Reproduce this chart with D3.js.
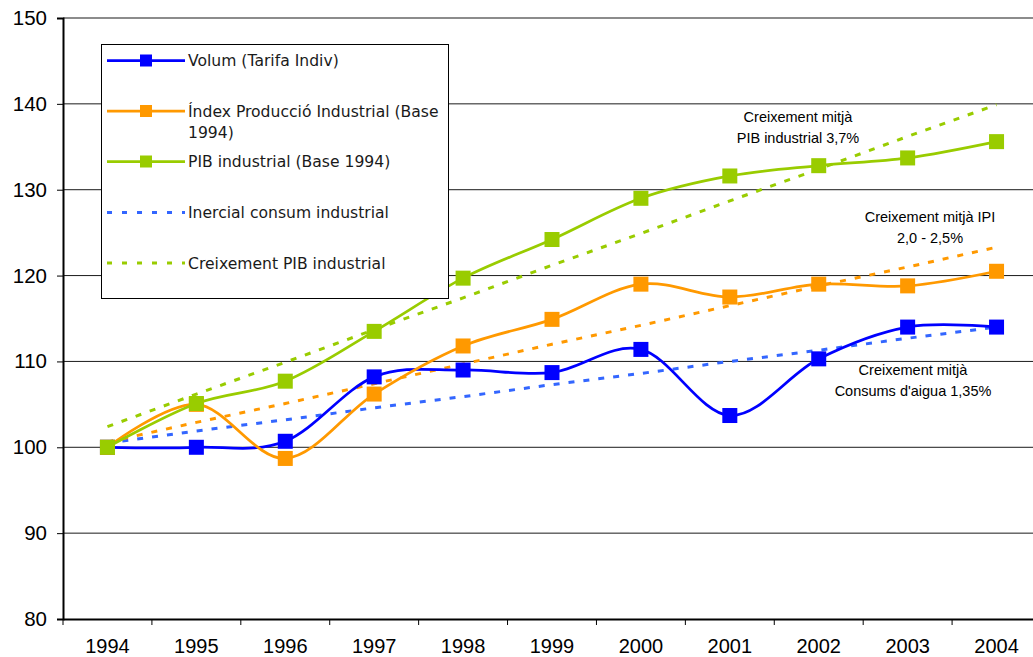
<!DOCTYPE html>
<html>
<head>
<meta charset="utf-8">
<script src="https://cdn.jsdelivr.net/npm/d3@7"></script>
<style>
  html, body { margin: 0; padding: 0; background: #fff; overflow: hidden; }
  svg { display: block; }
</style>
</head>
<body>
<svg id="chart" width="1033" height="657"></svg>
<script>
// Years on the category axis
const years = ["1994","1995","1996","1997","1998","1999","2000","2001","2002","2003","2004"];

// Index series (base 1994 = 100)
const volum = [100.0, 100.0, 100.7, 108.2, 109.0, 108.7, 111.4, 103.7, 110.3, 114.0, 114.0];
const ipi   = [100.0, 105.0, 98.7, 106.2, 111.8, 114.9, 119.0, 117.5, 119.0, 118.8, 120.5];
const pib   = [100.0, 105.1, 107.7, 113.5, 119.7, 124.2, 129.0, 131.6, 132.8, 133.7, 135.6];

// Trend lines
const inercial   = [100.5, 101.9, 103.2, 104.6, 105.9, 107.3, 108.6, 110.0, 111.3, 112.7, 114.0];
const tendIpi    = [100.6, 102.9, 105.1, 107.4, 109.7, 112.0, 114.2, 116.5, 118.8, 121.0, 123.3];
const creixPib   = [102.4, 106.2, 109.9, 113.7, 117.4, 121.2, 124.9, 128.7, 132.4, 136.2, 139.9];

const yTicks = [80, 90, 100, 110, 120, 130, 140, 150];

const svg = d3.select("#chart");

const plotLeft = 63, plotRight = 1041, plotTop = 18, plotBottom = 619;

const x = d3.scaleBand().domain(years).range([plotLeft, plotRight]).padding(0);
const y = d3.scaleLinear().domain([80, 150]).range([plotBottom, plotTop]);
const cx = d => x(d) + x.bandwidth() / 2;

// Horizontal gridlines
svg.append("g")
  .selectAll("line")
  .data(yTicks.filter(t => t > 80 && t < 150))
  .join("line")
  .attr("x1", plotLeft).attr("x2", plotRight)
  .attr("y1", d => y(d)).attr("y2", d => y(d))
  .attr("stroke", "#1a1a1a").attr("stroke-width", 1);

// Top border of the plot area
svg.append("line")
  .attr("x1", plotLeft).attr("x2", plotRight)
  .attr("y1", y(150)).attr("y2", y(150))
  .attr("stroke", "#8c8c8c").attr("stroke-width", 2);

// Y axis
const yAxis = svg.append("g")
  .attr("transform", `translate(${plotLeft},0)`)
  .call(d3.axisLeft(y).tickValues(yTicks).tickSize(6).tickPadding(10).tickFormat(d3.format("d")));
yAxis.select(".domain").attr("stroke", "#000").attr("stroke-width", 2);
yAxis.selectAll(".tick line").attr("stroke", "#000");
yAxis.selectAll(".tick text")
  .attr("font-family", "'Liberation Sans', Arial, sans-serif")
  .attr("font-size", 20.5).attr("fill", "#000");

// X axis with ticks at the category boundaries
const xAxis = svg.append("g")
  .attr("transform", `translate(0,${plotBottom})`)
  .call(d3.axisBottom(x).tickSize(0).tickPadding(20));
xAxis.select(".domain").attr("stroke", "#000").attr("stroke-width", 2);
xAxis.selectAll(".tick text")
  .attr("font-family", "'Liberation Sans', Arial, sans-serif")
  .attr("font-size", 20).attr("fill", "#000");
xAxis.append("g")
  .selectAll("line")
  .data(years)
  .join("line")
  .attr("x1", d => x(d)).attr("x2", d => x(d))
  .attr("y1", 0).attr("y2", 6)
  .attr("stroke", "#000").attr("stroke-width", 1);

// Dashed trend lines
const straight = d3.line().x((d, i) => cx(years[i])).y(d => y(d));
const trends = [
  { data: inercial, color: "#3366ff" },
  { data: tendIpi,  color: "#ff9900" },
  { data: creixPib, color: "#99cc00" }
];
svg.append("g")
  .selectAll("path")
  .data(trends)
  .join("path")
  .attr("d", d => straight(d.data))
  .attr("fill", "none")
  .attr("stroke", d => d.color)
  .attr("stroke-width", 3)
  .attr("stroke-dasharray", "6,9");

// Smoothed series with square markers
const smooth = d3.line().x((d, i) => cx(years[i])).y(d => y(d)).curve(d3.curveCatmullRom.alpha(0));
const series = [
  { data: volum, color: "#0000ff" },
  { data: ipi,   color: "#ff9900" },
  { data: pib,   color: "#99cc00" }
];
const sg = svg.append("g");
series.forEach(s => {
  sg.append("path")
    .attr("d", smooth(s.data))
    .attr("fill", "none")
    .attr("stroke", s.color)
    .attr("stroke-width", 2.75);
});
series.forEach(s => {
  sg.append("g")
    .selectAll("rect")
    .data(s.data)
    .join("rect")
    .attr("x", (d, i) => cx(years[i]) - 7.5)
    .attr("y", d => y(d) - 7.5)
    .attr("width", 15).attr("height", 15)
    .attr("fill", s.color);
});

// Growth annotations
const notes = [
  { lines: ["Creixement mitjà", "PIB industrial 3,7%"], x: 798, y: 122 },
  { lines: ["Creixement mitjà IPI", "2,0 - 2,5%"], x: 930, y: 222 },
  { lines: ["Creixement mitjà", "Consums d'aigua 1,35%"], x: 913, y: 375 }
];
notes.forEach(n => {
  const t = svg.append("text")
    .attr("font-family", "'Liberation Sans', Arial, sans-serif")
    .attr("font-size", 14.5).attr("fill", "#000")
    .attr("text-anchor", "middle");
  n.lines.forEach((l, i) => {
    t.append("tspan").attr("x", n.x).attr("y", n.y + i * 21).text(l);
  });
});

// Legend
const legendItems = [
  { label: ["Volum (Tarifa Indiv)"], color: "#0000ff", marker: true, dashed: false, cy: 60.5 },
  { label: ["Índex Producció Industrial (Base", "1994)"], color: "#ff9900", marker: true, dashed: false, cy: 111 },
  { label: ["PIB industrial (Base 1994)"], color: "#99cc00", marker: true, dashed: false, cy: 161.5 },
  { label: ["Inercial consum industrial"], color: "#3366ff", marker: false, dashed: true, cy: 212.5 },
  { label: ["Creixement PIB industrial"], color: "#99cc00", marker: false, dashed: true, cy: 263 }
];
const lg = svg.append("g");
lg.append("rect")
  .attr("x", 101.5).attr("y", 44.5).attr("width", 347).attr("height", 254)
  .attr("fill", "#fff").attr("stroke", "#000").attr("stroke-width", 1);
legendItems.forEach(it => {
  lg.append("line")
    .attr("x1", 107).attr("x2", 185)
    .attr("y1", it.cy).attr("y2", it.cy)
    .attr("stroke", it.color)
    .attr("stroke-width", it.dashed ? 3 : 2.75)
    .attr("stroke-dasharray", it.dashed ? "5,10" : null);
  if (it.marker) {
    lg.append("rect")
      .attr("x", 146 - 6).attr("y", it.cy - 6)
      .attr("width", 12).attr("height", 12)
      .attr("fill", it.color);
  }
  const t = lg.append("text")
    .attr("font-family", "'DejaVu Sans', Verdana, sans-serif")
    .attr("font-size", 15.6).attr("fill", "#1a1a1a");
  it.label.forEach((l, i) => {
    t.append("tspan").attr("x", 188).attr("y", it.cy + 5.5 + i * 21).text(l);
  });
});
</script>
</body>
</html>
